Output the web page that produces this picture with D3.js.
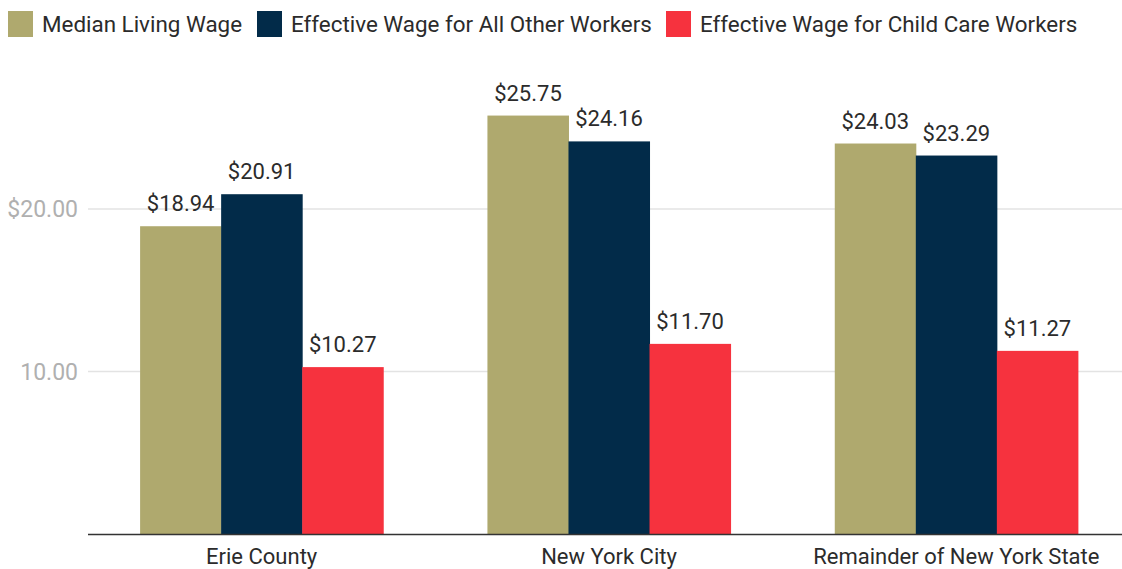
<!DOCTYPE html>
<html>
<head>
<meta charset="utf-8">
<script src="https://cdn.jsdelivr.net/npm/d3@7"></script>
<style>
  body { margin: 0; background: #fff; }
  svg { display: block; font-family: Roboto, sans-serif; }
</style>
</head>
<body>
<div id="chart"></div>
<script>
var regions = ['Erie County', 'New York City', 'Remainder of New York State'];
var seriesNames = ['Median Living Wage', 'Effective Wage for All Other Workers', 'Effective Wage for Child Care Workers'];
var seriesColors = ['#afa96e', '#022b49', '#f6323e'];
var medianLiving = [18.94, 25.75, 24.03];
var allOther = [20.91, 24.16, 23.29];
var childCare = [10.27, 11.70, 11.27];
var yTicks = [10, 20];
var yTickLabels = ['10.00', '$20.00'];

var seriesValues = [medianLiving, allOther, childCare];

var width = 1122, height = 569;

var svg = d3.select('#chart')
    .append('svg')
    .attr('width', width)
    .attr('height', height)

var x0 = d3.scaleBand()
    .domain(regions)
    .range([88, 1130])
    .paddingInner(0.3)
    .paddingOuter(0.15)

var x1 = d3.scaleBand()
    .domain(seriesNames)
    .range([0, x0.bandwidth()])

var y = d3.scaleLinear()
    .domain([0, 30])
    .range([534, 46.5])

// gridlines
svg.append('g')
    .selectAll('line')
    .data(yTicks)
    .enter()
    .append('line')
    .attr('x1', 88)
    .attr('x2', width)
    .attr('y1', function(d) { return y(d) })
    .attr('y2', function(d) { return y(d) })
    .attr('stroke', '#e3e3e3')
    .attr('stroke-width', 1.5)

svg.append('g')
    .selectAll('text')
    .data(yTicks)
    .enter()
    .append('text')
    .attr('x', 78)
    .attr('y', function(d) { return y(d) })
    .attr('dy', '0.35em')
    .attr('text-anchor', 'end')
    .style('font-size', '23px')
    .style('fill', '#b0b0b0')
    .text(function(d, i) { return yTickLabels[i] })

// bars
var rows = [];
regions.forEach(function(r, i) {
    seriesNames.forEach(function(s, j) {
        rows.push({ region: r, series: s, value: seriesValues[j][i], color: seriesColors[j] })
    })
})

svg.append('g')
    .selectAll('rect')
    .data(rows)
    .enter()
    .append('rect')
    .attr('x', function(d) { return x0(d.region) + x1(d.series) })
    .attr('y', function(d) { return y(d.value) })
    .attr('width', x1.bandwidth() + 0.5)
    .attr('height', function(d) { return y(0) - y(d.value) })
    .attr('fill', function(d) { return d.color })

svg.append('g')
    .selectAll('text')
    .data(rows)
    .enter()
    .append('text')
    .attr('x', function(d) { return x0(d.region) + x1(d.series) + x1.bandwidth() / 2 })
    .attr('y', function(d) { return y(d.value) - 15 })
    .attr('text-anchor', 'middle')
    .style('font-size', '22px')
    .style('fill', '#2b2b2b')
    .text(function(d) { return '$' + d.value.toFixed(2) })

// x axis
svg.append('line')
    .attr('x1', 88)
    .attr('x2', width)
    .attr('y1', y(0) + 0.5)
    .attr('y2', y(0) + 0.5)
    .attr('stroke', '#333')
    .attr('stroke-width', 1.5)

svg.append('g')
    .selectAll('text')
    .data(regions)
    .enter()
    .append('text')
    .attr('x', function(d) { return x0(d) + x0.bandwidth() / 2 })
    .attr('y', 564)
    .attr('text-anchor', 'middle')
    .style('font-size', '22px')
    .style('fill', '#2b2b2b')
    .text(function(d) { return d })

// legend
var legendX = [8, 257, 666];
var legend = svg.append('g')
    .selectAll('g')
    .data(seriesNames)
    .enter()
    .append('g')
    .attr('transform', function(d, i) { return 'translate(' + legendX[i] + ',11)' })

legend.append('rect')
    .attr('width', 25)
    .attr('height', 26)
    .attr('fill', function(d, i) { return seriesColors[i] })

legend.append('text')
    .attr('x', 34)
    .attr('y', 13)
    .attr('dy', '0.35em')
    .style('font-size', '22.4px')
    .style('fill', '#2b2b2b')
    .text(function(d) { return d })
</script>
</body>
</html>
